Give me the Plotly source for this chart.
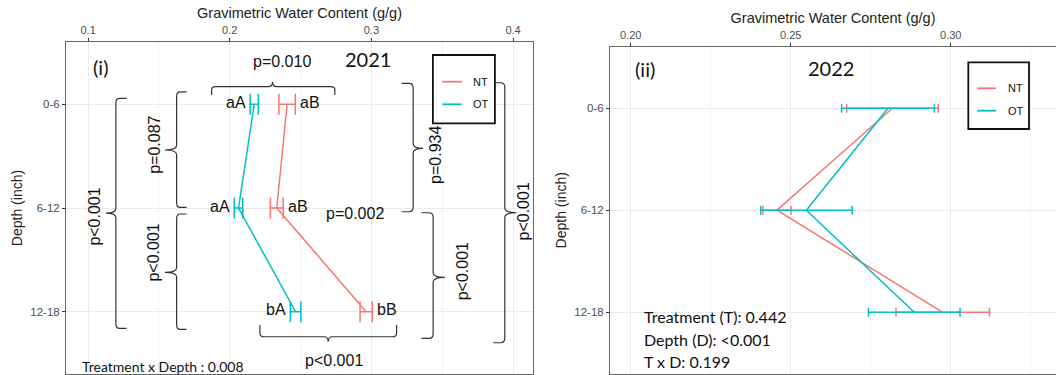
import plotly.graph_objects as go

# ---------------------------------------------------------------- data
depths = ["0-6", "6-12", "12-18"]
treatments = ["NT", "OT"]
colors = ["#F8766D", "#00BFC4"]

# 2021: mean gravimetric water content (g/g) and standard error per depth
gwc_2021_nt = [0.2405, 0.2332, 0.2963]
se_2021_nt = [0.0058, 0.0045, 0.0043]
gwc_2021_ot = [0.2173, 0.2062, 0.2465]
se_2021_ot = [0.0029, 0.0030, 0.0037]
letters_2021_nt = ["aB", "aB", "bB"]
letters_2021_ot = ["aA", "aA", "bA"]

# 2022
gwc_2022_nt = [0.2818, 0.2457, 0.2975]
se_2022_nt = [0.0143, 0.0044, 0.0146]
gwc_2022_ot = [0.2804, 0.2549, 0.2886]
se_2022_ot = [0.0145, 0.0143, 0.0143]

ticks_2021 = [0.1, 0.2, 0.3, 0.4]
ticks_2022 = [0.20, 0.25, 0.30]
minor_2021 = [0.15, 0.25, 0.35]
minor_2022 = [0.225, 0.275, 0.325]

stats_2022 = ["Treatment (T): 0.442", "Depth (D): <0.001", "T x D: 0.199"]

# ---------------------------------------------------------------- page
W, H = 1056, 375
ANNOT_FONT = "Liberation Sans, Arial, sans-serif"
LABEL_FONT = "Lato, Calibri, sans-serif"


def px(x):
    return x / W


def py(y):
    return 1 - y / H


fig = go.Figure()

series_2021 = [(gwc_2021_nt, se_2021_nt), (gwc_2021_ot, se_2021_ot)]
series_2022 = [(gwc_2022_nt, se_2022_nt), (gwc_2022_ot, se_2022_ot)]

for name, color, (vals, se) in zip(treatments, colors, series_2021):
    fig.add_trace(go.Scatter(
        x=vals, y=depths, name=name, mode="lines",
        line=dict(color=color, width=1.5),
        error_x=dict(type="data", array=se, color=color, thickness=1.5, width=10.5),
        xaxis="x", yaxis="y", showlegend=False,
    ))

for name, color, (vals, se) in zip(treatments, colors, series_2022):
    fig.add_trace(go.Scatter(
        x=vals, y=depths, name=name, mode="lines",
        line=dict(color=color, width=1.5),
        error_x=dict(type="data", array=se, color=color, thickness=1.5, width=4.5),
        xaxis="x2", yaxis="y2", showlegend=False,
    ))

# ---------------------------------------------------------------- axes
grid = "#ebebeb"
axis_common = dict(
    side="top", ticks="outside", ticklen=3, tickcolor="#333333", tickwidth=1,
    tickfont=dict(size=11, color="#4d4d4d"), showgrid=True, gridcolor=grid,
    gridwidth=1, zeroline=False, showline=True, linecolor="#666666",
    linewidth=1, title=dict(text="Gravimetric Water Content (g/g)",
                            font=dict(size=14.5, color="#222222"), standoff=1),
)
yaxis_common = dict(
    type="category", categoryorder="array", categoryarray=depths,
    range=[2.6, -0.6], autorange=False, ticks="outside", ticklen=3,
    tickcolor="#333333", tickfont=dict(size=11.5, color="#4d4d4d"),
    showgrid=True, gridcolor=grid, gridwidth=1, zeroline=False,
    showline=True, linecolor="#666666", linewidth=1,
    title=dict(text="Depth (inch)", font=dict(size=14, color="#222222"), standoff=4),
)

fig.update_layout(
    width=W, height=H, margin=dict(l=0, r=0, t=0, b=0),
    paper_bgcolor="white", plot_bgcolor="white",
    font=dict(family=ANNOT_FONT, color="#222222"),
    xaxis=dict(axis_common, domain=[px(66), px(533)], anchor="y",
               range=[0.0844, 0.4141], tickvals=ticks_2021,
               ticktext=[f"{t:.1f}" for t in ticks_2021], mirror=True,
               minor=dict(tickvals=minor_2021, showgrid=True,
                          gridcolor="#f3f3f3", gridwidth=0.8)),
    yaxis=dict(yaxis_common, domain=[py(374), py(42)], anchor="x", mirror=True),
    xaxis2=dict(axis_common, domain=[px(610), 1.0], anchor="y2",
                range=[0.19353, 0.3329], tickvals=ticks_2022,
                ticktext=[f"{t:.2f}" for t in ticks_2022], mirror=True,
                minor=dict(tickvals=minor_2022, showgrid=True,
                           gridcolor="#f3f3f3", gridwidth=0.8)),
    yaxis2=dict(yaxis_common, domain=[py(373.5), py(47)], anchor="x2", mirror=False),
)

shapes = []
annotations = []


def vbrace(xv, xh, y0, y1, yt, xt, xref="x", yref="y"):
    """Vertical curly bracket at xv spanning y0..y1, hooks reaching xh, tip to xt."""
    dy = 0.045
    dx = (xh - xv) * 0.35
    p = (f"M {xh},{y0} L {xv + dx},{y0} Q {xv},{y0} {xv},{y0 + dy} "
         f"L {xv},{yt - dy} Q {xv},{yt} {xt},{yt} Q {xv},{yt} {xv},{yt + dy} "
         f"L {xv},{y1 - dy} Q {xv},{y1} {xv + dx},{y1} L {xh},{y1}")
    shapes.append(dict(type="path", path=p, xref=xref, yref=yref,
                       line=dict(color="#333333", width=1.2)))


def hbrace(yb, ye, x0, x1, xt, yt, xref="x", yref="y"):
    """Horizontal curly bracket at yb spanning x0..x1, ends reaching ye, tip to yt."""
    dx = 0.003
    dy = (ye - yb) * 0.35
    p = (f"M {x0},{ye} L {x0},{yb + dy} Q {x0},{yb} {x0 + dx},{yb} "
         f"L {xt - dx},{yb} Q {xt},{yb} {xt},{yt} Q {xt},{yb} {xt + dx},{yb} "
         f"L {x1 - dx},{yb} Q {x1},{yb} {x1},{yb + dy} L {x1},{ye}")
    shapes.append(dict(type="path", path=p, xref=xref, yref=yref,
                       line=dict(color="#333333", width=1.2)))


def note(text, x, y, size=16, family=ANNOT_FONT, angle=0, xanchor="center",
         xref="x", yref="y", xshift=0, yshift=0):
    annotations.append(dict(text=text, x=x, y=y, xref=xref, yref=yref,
                            showarrow=False, textangle=angle, xanchor=xanchor,
                            yanchor="middle", xshift=xshift, yshift=yshift,
                            font=dict(size=size, family=family, color="#111111")))


# ---- 2021 comparisons: brackets and p-values
hbrace(-0.169, -0.089, 0.1872, 0.2742, 0.2302, -0.217)
note("p=0.010", 0.2372, -0.41)
hbrace(2.241, 2.128, 0.2213, 0.3178, 0.2695, 2.289)
note("p<0.001", 0.2736, 2.466)

vbrace(0.1196, 0.1272, -0.057, 2.16, 1.05, 0.1126)
note("p<0.001", 0.1048, 1.084, angle=-90)
vbrace(0.1625, 0.1695, -0.12, 0.994, 0.441, 0.1542)
note("p=0.087", 0.1464, 0.393, angle=-90)
vbrace(0.1625, 0.1695, 1.058, 2.17, 1.62, 0.1542)
note("p<0.001", 0.1464, 1.431, angle=-90)
vbrace(0.3295, 0.3213, -0.201, 1.036, 0.425, 0.3365)
note("p=0.934", 0.3448, 0.49, angle=-90)
vbrace(0.3436, 0.3354, 1.046, 2.256, 1.668, 0.3519)
note("p<0.001", 0.3643, 1.606, angle=-90)
vbrace(0.3942, 0.3860, -0.207, 2.299, 1.046, 0.4025)
note("p<0.001", 0.4073, 1.03, angle=-90)
note("p=0.002", 0.2887, 1.049)

# ---- 2021 mean-separation letters beside each error bar
for i, d in enumerate(depths):
    note(letters_2021_ot[i], gwc_2021_ot[i] - se_2021_ot[i], i,
         xanchor="right", xshift=-2, yshift=2)
    note(letters_2021_nt[i], gwc_2021_nt[i] + se_2021_nt[i], i,
         xanchor="left", xshift=3, yshift=2)

note("(i)", 0.1086, -0.359, size=20, family=LABEL_FONT)
note("2021", 0.2973, -0.437, size=20, family=LABEL_FONT)
note("Treatment x Depth : 0.008", 0.1529, 2.527, size=14, family=LABEL_FONT)

# ---- 2022 labels
note("(ii)", 0.20456, -0.385, size=20, family=LABEL_FONT, xref="x2", yref="y2")
note("2022", 0.26253, -0.392, size=20, family=LABEL_FONT, xref="x2", yref="y2")
for text, yy in zip(stats_2022, [2.046, 2.262, 2.478]):
    note(text, 0.20344, yy, size=16, family=LABEL_FONT, xanchor="left",
         xref="x2", yref="y2")

# ---- legends (one boxed key per panel)
legend_boxes = [
    dict(x0=432.9, x1=494.9, y0=55, y1=123.3, lx0=442.3, lx1=461.7,
         rows=[81.7, 104.3], tx=471),
    dict(x0=968.3, x1=1029, y0=62.3, y1=129, lx0=977.3, lx1=996,
         rows=[88.3, 110.7], tx=1005.7),
]
for box in legend_boxes:
    shapes.append(dict(type="rect", xref="paper", yref="paper",
                       x0=px(box["x0"]), x1=px(box["x1"]),
                       y0=py(box["y1"]), y1=py(box["y0"]),
                       line=dict(color="#111111", width=1.8),
                       fillcolor="white", layer="above"))
    for name, color, row in zip(treatments, colors, box["rows"]):
        shapes.append(dict(type="line", xref="paper", yref="paper",
                           x0=px(box["lx0"]), x1=px(box["lx1"]),
                           y0=py(row), y1=py(row),
                           line=dict(color=color, width=1.8)))
        note(name, px(box["tx"]), py(row), size=11, xanchor="left",
             xref="paper", yref="paper")

fig.update_layout(shapes=shapes, annotations=annotations)
fig.write_html("out.html")
